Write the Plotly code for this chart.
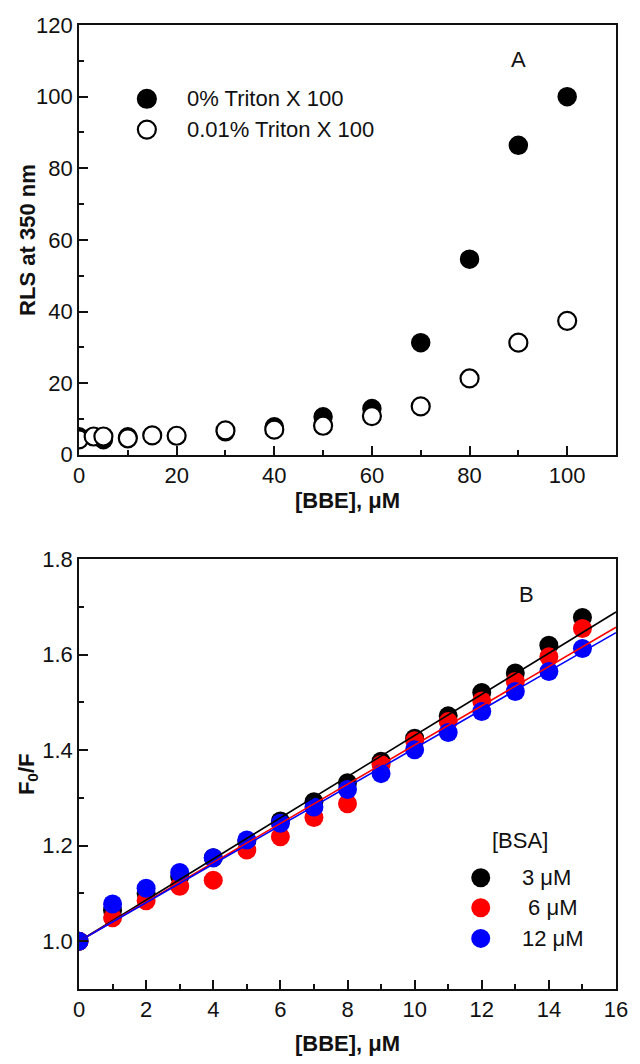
import plotly.graph_objects as go

# ---- Panel A: resonance light scattering vs BBE concentration ----
bbe_a_filled = [0, 5, 10, 30, 40, 50, 60, 70, 80, 90, 100]
rls_0pct = [5.0, 4.2, 5.0, 6.4, 7.8, 10.6, 12.9, 31.3, 54.6, 86.4, 100.0]

bbe_a_open = [0, 3, 5, 10, 15, 20, 30, 40, 50, 60, 70, 80, 90, 100]
rls_001pct = [4.3, 5.1, 5.1, 4.6, 5.4, 5.3, 6.8, 7.0, 8.1, 10.8, 13.5, 21.3, 31.3, 37.4]

legend_a = ["0% Triton X 100", "0.01% Triton X 100"]

# ---- Panel B: Stern-Volmer plots at three BSA concentrations ----
bbe_b = list(range(16))
f0f_bsa3 = [1.000, 1.065, 1.100, 1.135, 1.175, 1.210, 1.252, 1.292, 1.332, 1.377,
            1.425, 1.472, 1.521, 1.562, 1.620, 1.678]
f0f_bsa6 = [1.000, 1.049, 1.085, 1.115, 1.128, 1.191, 1.219, 1.259, 1.288, 1.370,
            1.420, 1.460, 1.503, 1.544, 1.596, 1.655]
f0f_bsa12 = [1.000, 1.078, 1.111, 1.144, 1.175, 1.212, 1.247, 1.281, 1.318, 1.351,
             1.401, 1.437, 1.481, 1.523, 1.565, 1.613]

# linear fits (intercept, slope) drawn across the full axis
fit_intercepts = [1.000, 1.000, 1.000]
fit_slopes = [0.0431, 0.0411, 0.0404]
fit_x = [0, 16]

bsa_labels = ["3 \u03bcM", " 6 \u03bcM", "12 \u03bcM"]
bsa_colors = ["#000000", "#ff0000", "#0000ff"]
bsa_series = [f0f_bsa3, f0f_bsa6, f0f_bsa12]

FONT = "Liberation Sans, Arial, sans-serif"
FS = 22
AX = "#111111"
DOM_A = [0.5542, 1]
DOM_B = [0, 0.4458]

fig = go.Figure()

# panel A markers
fig.add_trace(go.Scatter(
    x=bbe_a_filled, y=rls_0pct, mode="markers", xaxis="x", yaxis="y",
    marker=dict(size=18, color="black", line=dict(width=1.5, color="black")),
    showlegend=False, name=legend_a[0]))
fig.add_trace(go.Scatter(
    x=bbe_a_open, y=rls_001pct, mode="markers", xaxis="x", yaxis="y",
    marker=dict(size=18, color="white", line=dict(width=2.2, color="black")),
    showlegend=False, name=legend_a[1]))

# panel B markers
for ys, col, lab in zip(bsa_series, bsa_colors, bsa_labels):
    fig.add_trace(go.Scatter(
        x=bbe_b, y=ys, mode="markers", xaxis="x2", yaxis="y2",
        marker=dict(size=19, color=col), showlegend=False, name=lab))

# panel B fit lines
for b0, b1, col in zip(fit_intercepts, fit_slopes, bsa_colors):
    fig.add_trace(go.Scatter(
        x=fit_x, y=[b0 + b1 * v for v in fit_x], mode="lines",
        xaxis="x2", yaxis="y2", line=dict(color=col, width=1.6),
        showlegend=False, hoverinfo="skip"))

axis_common = dict(
    showline=True, linecolor=AX, linewidth=1.6, mirror=True,
    ticks="inside", ticklen=9, tickwidth=1.5, tickcolor=AX,
    showgrid=False, zeroline=False,
    tickfont=dict(family=FONT, size=FS, color="#111"),
)
minor_common = dict(ticks="inside", ticklen=5, tickwidth=1.5, tickcolor=AX)

fig.update_layout(
    width=640, height=1064,
    margin=dict(l=79, r=15, t=25, b=70),
    paper_bgcolor="white", plot_bgcolor="white",
    font=dict(family=FONT, size=FS, color="#111"),
    xaxis=dict(axis_common, domain=[0, 1], range=[0, 110], dtick=20, tick0=0,
               minor=dict(minor_common, dtick=10, tick0=0),
               anchor="y",
               title=dict(text="<b>[BBE], \u03bcM</b>", font=dict(size=FS), standoff=4)),
    yaxis=dict(axis_common, domain=DOM_A, range=[0, 120], dtick=20, tick0=0,
               minor=dict(minor_common, dtick=10, tick0=0),
               anchor="x"),
    xaxis2=dict(axis_common, domain=[0, 1], range=[0, 16], dtick=2, tick0=0,
                minor=dict(minor_common, dtick=1, tick0=0),
                anchor="y2",
                title=dict(text="<b>[BBE], \u03bcM</b>", font=dict(size=FS), standoff=14)),
    yaxis2=dict(axis_common, domain=DOM_B, range=[0.9, 1.8], dtick=0.2, tick0=1.0,
                tickformat=".1f",
                minor=dict(minor_common, dtick=0.1, tick0=0.9),
                anchor="x2"),
)

annotations = [
    # y-axis titles, centred on each panel
    dict(x=0, y=sum(DOM_A) / 2, xref="paper", yref="paper", xshift=-51,
         text="<b>RLS at 350 nm</b>", textangle=-90, showarrow=False,
         xanchor="center", yanchor="middle", font=dict(size=FS)),
    dict(x=0, y=sum(DOM_B) / 2, xref="paper", yref="paper", xshift=-51,
         text="<b>F<sub>0</sub>/F</b>", textangle=-90, showarrow=False,
         xanchor="center", yanchor="middle", font=dict(size=FS)),
    dict(x=90, y=110.5, xref="x", yref="y", text="A", showarrow=False,
         font=dict(size=FS)),
    dict(x=13.33, y=1.727, xref="x2", yref="y2", text="B", showarrow=False,
         font=dict(size=FS)),
    dict(x=13.14, y=1.21, xref="x2", yref="y2", text="[BSA]", showarrow=False,
         font=dict(size=FS)),
]
shapes = []

# panel A key
key_a_y = [99.4, 90.8]
key_a_fill = ["black", "white"]
for yy, lab, fc in zip(key_a_y, legend_a, key_a_fill):
    shapes.append(dict(type="circle", xref="x", yref="y", xsizemode="pixel",
                       ysizemode="pixel", xanchor=13.9, yanchor=yy,
                       x0=-9, x1=9, y0=-9, y1=9, fillcolor=fc,
                       line=dict(color="black", width=2.2)))
    annotations.append(dict(x=21.8, y=yy, xref="x", yref="y", text=lab,
                            xanchor="left", showarrow=False, font=dict(size=FS)))

# panel B key
key_b_y = [1.133, 1.070, 1.006]
for yy, lab, col in zip(key_b_y, bsa_labels, bsa_colors):
    shapes.append(dict(type="circle", xref="x2", yref="y2", xsizemode="pixel",
                       ysizemode="pixel", xanchor=11.97, yanchor=yy,
                       x0=-9.5, x1=9.5, y0=-9.5, y1=9.5, fillcolor=col,
                       line=dict(color=col, width=0)))
    annotations.append(dict(x=13.14, y=yy, xref="x2", yref="y2", text=lab,
                            xanchor="left", showarrow=False, font=dict(size=FS)))

fig.update_layout(annotations=annotations, shapes=shapes)

fig.write_html("out.html")
